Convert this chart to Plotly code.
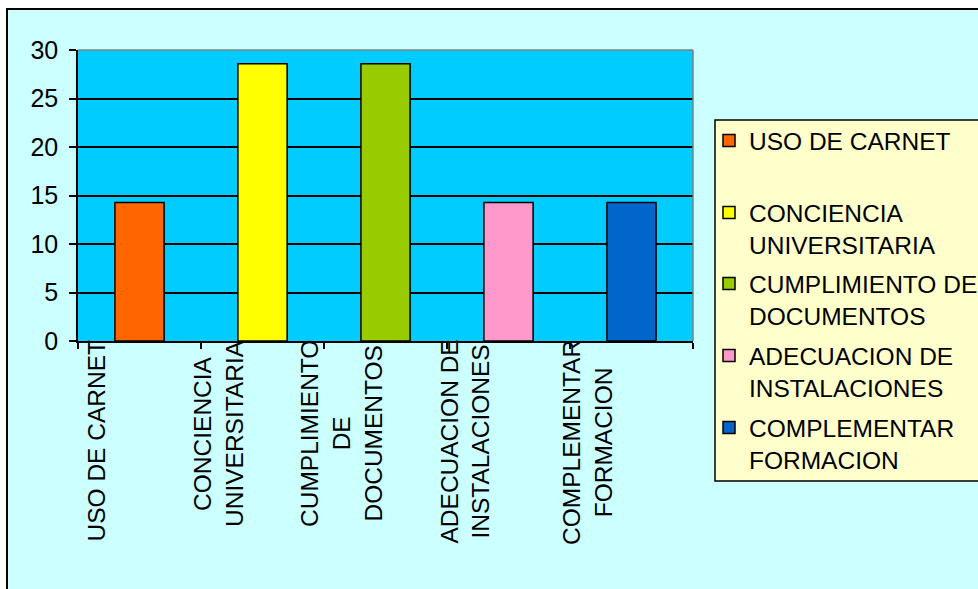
import plotly.graph_objects as go

categories = ["USO DE CARNET", "CONCIENCIA UNIVERSITARIA", "CUMPLIMIENTO DE DOCUMENTOS",
              "ADECUACION DE INSTALACIONES", "COMPLEMENTAR FORMACION"]
values = [14.29, 28.57, 28.57, 14.29, 14.29]
axis_labels = ["USO DE CARNET", "CONCIENCIA<br>UNIVERSITARIA", "CUMPLIMIENTO<br>DE<br>DOCUMENTOS",
               "ADECUACION DE<br>INSTALACIONES", "COMPLEMENTAR<br>FORMACION"]
legend_labels = ["USO DE CARNET", "CONCIENCIA<br>UNIVERSITARIA", "CUMPLIMIENTO DE<br>DOCUMENTOS",
                 "ADECUACION DE<br>INSTALACIONES", "COMPLEMENTAR<br>FORMACION"]
colors = ["#FF6600", "#FFFF00", "#99CC00", "#FF99CC", "#0066CC"]
y_ticks = [0, 5, 10, 15, 20, 25, 30]

FONT = "Liberation Sans, Arial, sans-serif"
W, H = 978, 589
L, R, T, B = 78, 285, 50, 248
PW, PH = W - L - R, H - T - B

# legend entry first-line centres (px from top) in the reference
legend_line_y = [140, 212, 283, 355, 427]
LEG_FONT = 24.5
LEG_OFFSET = 22  # distance from legend top to first text line centre

fig = go.Figure()
legend_ids = ["legend"] + [f"legend{i}" for i in range(2, len(categories) + 1)]
for i, (cat, val) in enumerate(zip(categories, values)):
    fig.add_trace(go.Bar(
        x=[cat], y=[val], name=legend_labels[i], legend=legend_ids[i],
        marker=dict(color=colors[i], line=dict(color="black", width=1.5)),
        width=0.4, showlegend=True,
    ))


def px_to_paper_x(px):
    return (px - L) / PW


def px_to_paper_y(py):
    return (H - B - py) / PH


shapes = [
    # outer chart area
    dict(type="rect", xref="paper", yref="paper", layer="below",
         x0=px_to_paper_x(7), x1=px_to_paper_x(1000), y0=px_to_paper_y(620), y1=px_to_paper_y(9),
         fillcolor="#CCFFFF", line=dict(color="black", width=2)),
    # plot area
    dict(type="rect", xref="paper", yref="paper", layer="below",
         x0=0, x1=1, y0=0, y1=1, fillcolor="#00CCFF", line=dict(width=0)),
    # top & right gray borders
    dict(type="line", xref="paper", yref="paper", layer="above",
         x0=0, x1=1, y0=1, y1=1, line=dict(color="#808080", width=1.5)),
    dict(type="line", xref="paper", yref="paper", layer="above",
         x0=1, x1=1, y0=0, y1=1, line=dict(color="#808080", width=1.5)),
    # legend box
    dict(type="rect", xref="paper", yref="paper", layer="above",
         x0=px_to_paper_x(715), x1=px_to_paper_x(1000), y0=px_to_paper_y(481), y1=px_to_paper_y(120),
         fillcolor="#FFFFCC", line=dict(color="black", width=1.5)),
]

annotations = []
for cat, lab in zip(categories, axis_labels):
    annotations.append(dict(
        x=cat, xref="x", y=0, yref="paper", text=lab, showarrow=False,
        textangle=-90, xanchor="center", yanchor="top", align="center",
        xshift=-44, yshift=3, font=dict(family=FONT, size=24.5, color="black"),
    ))

layout = dict(
    width=W, height=H,
    margin=dict(l=L, r=R, t=T, b=B, pad=0),
    paper_bgcolor="white",
    plot_bgcolor="#00CCFF",
    barmode="overlay",
    font=dict(family=FONT, size=24, color="black"),
    shapes=shapes,
    annotations=annotations,
    showlegend=True,
    xaxis=dict(
        type="category", categoryorder="array", categoryarray=categories,
        range=[-0.5, 4.5], showticklabels=False, showgrid=False,
        showline=True, linecolor="black", linewidth=1.5,
        ticks="outside", tickson="boundaries", ticklen=6, tickcolor="black", tickwidth=1.5,
        zeroline=False, fixedrange=True,
    ),
    yaxis=dict(
        range=[0, 30], tickvals=y_ticks, showgrid=True, gridcolor="black", gridwidth=1.5,
        showline=True, linecolor="black", linewidth=1.5,
        ticks="outside", ticklen=7, tickcolor="black", tickwidth=1.5,
        tickfont=dict(family=FONT, size=25, color="black"),
        ticklabelstandoff=6, zeroline=False, fixedrange=True,
    ),
)
for lid, ly in zip(legend_ids, legend_line_y):
    layout[lid] = dict(
        xref="container", yref="container",
        x=709 / W, y=1 - (ly - LEG_OFFSET) / H, xanchor="left", yanchor="top",
        bgcolor="rgba(0,0,0,0)", borderwidth=0,
        font=dict(family=FONT, size=LEG_FONT, color="black"),
        valign="top", itemclick=False, itemdoubleclick=False,
    )
fig.update_layout(**layout)

fig.write_html(
    "out.html", config={"displayModeBar": False},
    post_script="document.body.style.margin='0px';document.body.style.overflow='hidden';",
)
